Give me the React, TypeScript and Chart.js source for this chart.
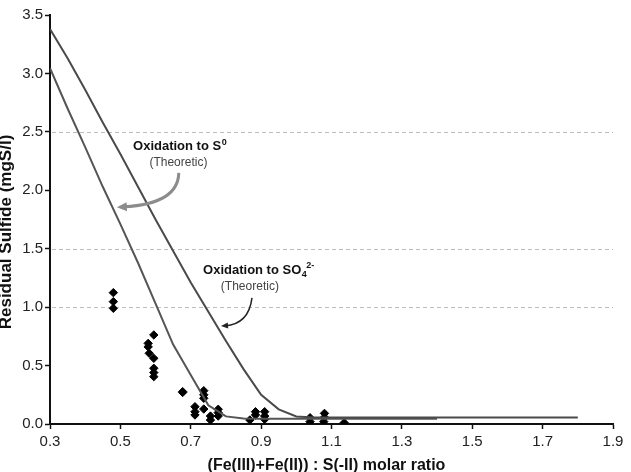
import React, { useEffect, useRef } from "react";
import { Chart, registerables } from "chart.js";

Chart.register(...registerables);

const FONT = "'Liberation Sans', Arial, Helvetica, sans-serif";

// Axis ticks
const xTicks = [0.3, 0.5, 0.7, 0.9, 1.1, 1.3, 1.5, 1.7, 1.9];
const yTicks = [0, 0.5, 1.0, 1.5, 2.0, 2.5, 3.0, 3.5];
const gridValues = [1.0, 1.5, 2.5];

// Theoretic curve: oxidation to S0
const s0X = [0.3, 0.35, 0.4, 0.45, 0.5, 0.55, 0.6, 0.65, 0.7, 0.75, 0.8, 0.85, 0.9, 1.0, 1.1, 1.2, 1.3, 1.4];
const s0Y = [3.045, 2.7, 2.37, 2.03, 1.71, 1.38, 1.03, 0.68, 0.42, 0.16, 0.065, 0.048, 0.045, 0.045, 0.045, 0.045, 0.045, 0.045];

// Theoretic curve: oxidation to SO4 2-
const so4X = [0.3, 0.35, 0.4, 0.45, 0.5, 0.55, 0.6, 0.65, 0.7, 0.75, 0.8, 0.85, 0.9, 0.95, 1.0, 1.05, 1.1, 1.2, 1.4, 1.6, 1.8];
const so4Y = [3.38, 3.13, 2.86, 2.58, 2.31, 2.03, 1.75, 1.48, 1.21, 0.96, 0.71, 0.47, 0.25, 0.125, 0.065, 0.056, 0.055, 0.055, 0.055, 0.055, 0.055];

// Measured residual sulfide
const measX = [
  0.48, 0.48, 0.48,
  0.579, 0.579, 0.582,
  0.595, 0.595, 0.595, 0.595, 0.595,
  0.677, 0.677,
  0.712, 0.712, 0.712,
  0.737, 0.737, 0.737, 0.737,
  0.756, 0.756,
  0.778, 0.778, 0.778,
  0.868,
  0.884, 0.884,
  0.91, 0.91, 0.91,
  1.039, 1.039,
  1.08, 1.08, 1.078,
  1.136,
];
const measY = [
  1.124, 1.047, 0.99,
  0.69, 0.66, 0.605,
  0.762, 0.562, 0.477, 0.44, 0.405,
  0.277, 0.27,
  0.148, 0.105, 0.077,
  0.285, 0.25, 0.22, 0.128,
  0.068, 0.034,
  0.126, 0.097, 0.068,
  0.034,
  0.105, 0.077,
  0.105, 0.068, 0.04,
  0.054, 0.02,
  0.091, 0.057, 0.02,
  0.011,
];

const zip = (xs: number[], ys: number[]) => xs.map((x, i) => ({ x, y: ys[i] }));

function arrowHead(ctx: CanvasRenderingContext2D, fromX: number, fromY: number, tipX: number, tipY: number, len: number, wid: number, color: string) {
  const a = Math.atan2(tipY - fromY, tipX - fromX);
  ctx.save();
  ctx.fillStyle = color;
  ctx.beginPath();
  ctx.moveTo(tipX, tipY);
  ctx.lineTo(tipX - len * Math.cos(a) + (wid / 2) * Math.sin(a), tipY - len * Math.sin(a) - (wid / 2) * Math.cos(a));
  ctx.lineTo(tipX - len * Math.cos(a) - (wid / 2) * Math.sin(a), tipY - len * Math.sin(a) + (wid / 2) * Math.cos(a));
  ctx.closePath();
  ctx.fill();
  ctx.restore();
}

const decor = {
  id: "decor",
  beforeDatasetsDraw(chart: any) {
    const { ctx, chartArea, scales } = chart;
    ctx.save();
    ctx.strokeStyle = "#bdbdbd";
    ctx.lineWidth = 1;
    ctx.setLineDash([4, 3]);
    for (const v of gridValues) {
      const y = Math.round(scales.y.getPixelForValue(v)) + 0.5;
      ctx.beginPath();
      ctx.moveTo(chartArea.left + 2, y);
      ctx.lineTo(chartArea.right, y);
      ctx.stroke();
    }
    ctx.restore();
  },
  afterDraw(chart: any) {
    const { ctx, scales, chartArea } = chart;
    const px = (v: number) => scales.x.getPixelForValue(v);
    const py = (v: number) => scales.y.getPixelForValue(v);
    ctx.save();

    // Axis titles
    ctx.fillStyle = "#111";
    ctx.font = `bold 16px ${FONT}`;
    ctx.textAlign = "center";
    ctx.textBaseline = "alphabetic";
    ctx.fillText("(Fe(III)+Fe(II)) : S(-II) molar ratio", (chartArea.left + chartArea.right) / 2 - 5, 470);

    ctx.save();
    ctx.translate(11, 232);
    ctx.rotate(-Math.PI / 2);
    ctx.font = `bold 17px ${FONT}`;
    ctx.fillText("Residual Sulfide (mgS/l)", 0, 0);
    ctx.restore();

    // Annotation: Oxidation to S0
    ctx.textAlign = "left";
    ctx.font = `bold 13px ${FONT}`;
    const t1 = "Oxidation to S";
    const x1 = px(0.536);
    const y1 = py(2.346);
    ctx.fillText(t1, x1, y1);
    const w1 = ctx.measureText(t1).width;
    ctx.font = `bold 9px ${FONT}`;
    ctx.fillText("0", x1 + w1 + 0.5, y1 - 5);
    ctx.font = `12px ${FONT}`;
    ctx.fillStyle = "#444";
    ctx.textAlign = "center";
    ctx.fillText("(Theoretic)", px(0.665), py(2.209));

    // Arrow to S0 curve (gray, curved)
    const a1s = [px(0.666), py(2.149)];
    const a1c = [px(0.664), py(1.884)];
    const a1t = [px(0.49), py(1.854)];
    ctx.strokeStyle = "#8c8c8c";
    ctx.lineWidth = 3;
    ctx.beginPath();
    ctx.moveTo(a1s[0], a1s[1]);
    ctx.quadraticCurveTo(a1c[0], a1c[1], a1t[0] + 7, a1t[1] - 0.5);
    ctx.stroke();
    arrowHead(ctx, a1c[0], a1c[1], a1t[0], a1t[1], 10, 9, "#8c8c8c");

    // Annotation: Oxidation to SO4 2-
    ctx.fillStyle = "#111";
    ctx.textAlign = "left";
    ctx.font = `bold 13px ${FONT}`;
    const t2 = "Oxidation to SO";
    const x2 = px(0.735);
    const y2 = py(1.284);
    ctx.fillText(t2, x2, y2);
    const w2 = ctx.measureText(t2).width;
    ctx.font = `bold 9px ${FONT}`;
    ctx.fillText("4", x2 + w2 + 0.5, y2 + 3);
    ctx.fillText("2-", x2 + w2 + 5, y2 - 6);
    ctx.font = `12px ${FONT}`;
    ctx.fillStyle = "#444";
    ctx.textAlign = "center";
    ctx.fillText("(Theoretic)", px(0.868), py(1.147));

    // Arrow to SO4 curve (black, thin)
    const a2s = [px(0.874), py(1.079)];
    const a2c = [px(0.865), py(0.856)];
    const a2t = [px(0.786), py(0.839)];
    ctx.strokeStyle = "#222";
    ctx.lineWidth = 1.5;
    ctx.beginPath();
    ctx.moveTo(a2s[0], a2s[1]);
    ctx.quadraticCurveTo(a2c[0], a2c[1], a2t[0] + 4, a2t[1]);
    ctx.stroke();
    arrowHead(ctx, a2c[0], a2c[1], a2t[0], a2t[1], 7, 6, "#222");

    ctx.restore();
  },
};

export default function App() {
  const ref = useRef<HTMLCanvasElement>(null);
  useEffect(() => {
    document.body.style.margin = "0";
    const canvas = ref.current!;
    const chart = new Chart(canvas, {
      type: "scatter",
      data: {
        datasets: [
          {
            type: "line",
            label: "Oxidation to SO4",
            data: zip(so4X, so4Y),
            borderColor: "#4a4a4a",
            borderWidth: 2,
            pointRadius: 0,
            tension: 0,
            fill: false,
          } as any,
          {
            type: "line",
            label: "Oxidation to S0",
            data: zip(s0X, s0Y),
            borderColor: "#555555",
            borderWidth: 2,
            pointRadius: 0,
            tension: 0,
            fill: false,
          } as any,
          {
            type: "scatter",
            label: "Measured",
            data: zip(measX, measY),
            pointStyle: "rectRot",
            pointRadius: 4.2,
            backgroundColor: "#000",
            borderColor: "#000",
            borderWidth: 1,
          } as any,
        ],
      },
      plugins: [decor],
      options: {
        animation: false,
        responsive: false,
        devicePixelRatio: 1,
        layout: { padding: { top: 15, right: 18, left: 0, bottom: 0 } },
        plugins: { legend: { display: false }, tooltip: { enabled: false } },
        scales: {
          x: {
            type: "linear",
            min: 0.3,
            max: 1.9,
            afterBuildTicks: (s: any) => {
              s.ticks = xTicks.map((v) => ({ value: v }));
            },
            afterFit: (s: any) => {
              s.height = 48;
            },
            ticks: {
              autoSkip: false,
              maxRotation: 0,
              padding: 4,
              color: "#222",
              font: { family: FONT, size: 15 },
              callback: (v: any) => Number(v).toFixed(1),
            },
            grid: { drawOnChartArea: false, drawTicks: true, tickLength: 5, tickColor: "#111", tickWidth: 1.5, color: "#111" },
            border: { display: true, color: "#111", width: 2 },
          },
          y: {
            type: "linear",
            min: 0,
            max: 3.5,
            afterBuildTicks: (s: any) => {
              s.ticks = yTicks.map((v) => ({ value: v }));
            },
            afterFit: (s: any) => {
              s.width = 50;
            },
            ticks: {
              padding: 2,
              color: "#222",
              font: { family: FONT, size: 15 },
              callback: (v: any) => Number(v).toFixed(1),
            },
            grid: { drawOnChartArea: false, drawTicks: true, tickLength: 5, tickColor: "#111", tickWidth: 1.5, color: "#111" },
            border: { display: true, color: "#111", width: 2 },
          },
        },
      },
    } as any);
    return () => chart.destroy();
  }, []);
  return (
    <div style={{ position: "absolute", left: 0, top: 0, width: 631, height: 472, background: "#fff" }}>
      <canvas ref={ref} width={631} height={472} style={{ display: "block", width: 631, height: 472 }} />
    </div>
  );
}
